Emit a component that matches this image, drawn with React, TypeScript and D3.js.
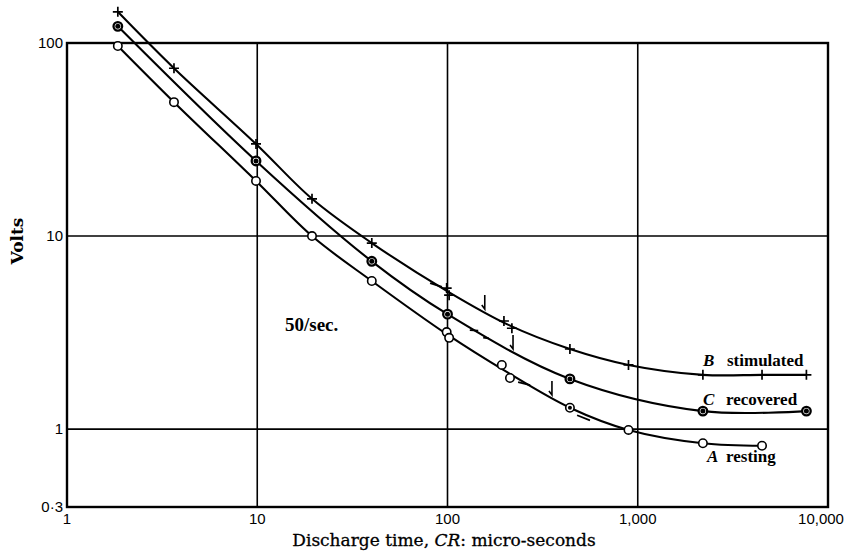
import React, { useEffect, useRef } from 'react';
import * as d3 from 'd3';

// axis ticks
const xTicks = [1, 10, 100, 1000, 10000];
const xTickLabels = ['1', '10', '100', '1,000', '10,000'];
const yBottom = 0.395;
const yTicks = [yBottom, 1, 10, 100];
const yTickLabels = ['0·3', '1', '10', '100'];
const gridX = [10, 100, 1000];
const gridY = [1, 10];

// B stimulated (+)
const stimulatedX = [1.85, 3.65, 9.85, 19.4, 40, 99, 102, 198, 218, 440, 894, 2200, 4500, 7700];
const stimulatedY = [145, 74, 30, 15.6, 9.2, 5.38, 4.94, 3.63, 3.33, 2.6, 2.15, 1.91, 1.91, 1.91];

// C recovered (filled circles)
const recoveredX = [1.85, 9.85, 40, 100, 440, 2200, 7700];
const recoveredY = [122, 24.5, 7.4, 3.94, 1.82, 1.24, 1.24];

// A resting (open circles)
const restingX = [1.85, 3.65, 9.85, 19.4, 40, 99, 102, 193, 213, 440, 894, 2200, 4500];
const restingY = [96.5, 49.4, 19.3, 10, 5.85, 3.18, 2.97, 2.15, 1.84, 1.29, 0.99, 0.845, 0.82];
const restingDotX = 440;

// small arrows pointing at the curves
const arrowX = [157, 221, 354];
const arrowY = [4.04, 2.51, 1.45];

// stray dash marks near the curves
const dashX1 = [81, 131, 154, 235, 480];
const dashX2 = [93.5, 145, 165, 272, 561];
const dashY1 = [5.7, 3.26, 2.98, 1.75, 1.18];
const dashY2 = [5.45, 3.24, 2.95, 1.69, 1.11];

const App = () => {
  const ref = useRef<SVGSVGElement | null>(null);

  useEffect(() => {
    const svg = d3.select(ref.current);
    svg.selectAll('*').remove();

    const x = d3.scaleLog().domain([1, 10000]).range([67, 828]);
    const y = d3.scaleLog().domain([yBottom, 100]).range([507, 43]);

    // grid lines
    svg.selectAll('.gx').data(gridX).enter().append('line')
      .attr('x1', (d) => x(d)).attr('x2', (d) => x(d))
      .attr('y1', y(100)).attr('y2', y(yBottom))
      .attr('stroke', '#000').attr('stroke-width', 1.6);
    svg.selectAll('.gy').data(gridY).enter().append('line')
      .attr('x1', x(1)).attr('x2', x(10000))
      .attr('y1', (d) => y(d)).attr('y2', (d) => y(d))
      .attr('stroke', '#000').attr('stroke-width', 1.6);

    // frame
    svg.append('rect')
      .attr('x', x(1)).attr('y', y(100))
      .attr('width', x(10000) - x(1)).attr('height', y(yBottom) - y(100))
      .attr('fill', 'none').attr('stroke', '#000').attr('stroke-width', 2.4);

    // tick labels
    svg.selectAll('.xt').data(xTicks).enter().append('text')
      .attr('x', (d) => Math.min(x(d), 821)).attr('y', 524)
      .attr('text-anchor', 'middle')
      .attr('font-family', '"Liberation Sans", Arial, sans-serif')
      .attr('font-size', 15)
      .text((d, i) => xTickLabels[i]);
    svg.selectAll('.yt').data(yTicks).enter().append('text')
      .attr('x', 63).attr('y', (d) => y(d) + 5)
      .attr('text-anchor', 'end')
      .attr('font-family', '"Liberation Sans", Arial, sans-serif')
      .attr('font-size', 15)
      .text((d, i) => yTickLabels[i]);

    // axis titles
    svg.append('text')
      .attr('transform', 'translate(23,241) rotate(-90)')
      .attr('text-anchor', 'middle')
      .attr('font-family', '"DejaVu Serif", serif')
      .attr('font-weight', 'bold')
      .attr('font-size', 17)
      .text('Volts');
    const title = svg.append('text')
      .attr('x', 444).attr('y', 546)
      .attr('text-anchor', 'middle')
      .attr('font-family', '"DejaVu Serif", serif')
      .attr('font-size', 17)
      .attr('stroke', '#000').attr('stroke-width', 0.3);
    title.append('tspan').text('Discharge time, ');
    title.append('tspan').attr('font-style', 'italic').text('CR');
    title.append('tspan').text(': micro-seconds');

    svg.append('text')
      .attr('x', 285).attr('y', 331)
      .attr('font-family', '"Liberation Serif", serif')
      .attr('font-weight', 'bold')
      .attr('font-size', 19)
      .text('50/sec.');

    // curves: pass through the points, merging readings that sit almost on top of each other
    const curvePoints = (xs: number[], ys: number[]) => {
      const out: { px: number; py: number; n: number }[] = [];
      xs.forEach((v, i) => {
        const px = x(v);
        const py = y(ys[i]);
        const last = out[out.length - 1];
        if (last && px - last.px / last.n < 12) {
          last.px += px;
          last.py += py;
          last.n += 1;
        } else {
          out.push({ px, py, n: 1 });
        }
      });
      return out.map((p) => [p.px / p.n, p.py / p.n] as [number, number]);
    };
    const line = d3.line<[number, number]>()
      .x((d) => d[0]).y((d) => d[1])
      .curve(d3.curveCatmullRom.alpha(0.5));
    const series = [
      { xs: stimulatedX, ys: stimulatedY },
      { xs: recoveredX, ys: recoveredY },
      { xs: restingX, ys: restingY },
    ];
    series.forEach((s) => {
      svg.append('path')
        .datum(curvePoints(s.xs, s.ys))
        .attr('d', line)
        .attr('fill', 'none').attr('stroke', '#000').attr('stroke-width', 2.1);
    });

    // dashes
    svg.selectAll('.dash').data(dashX1).enter().append('line')
      .attr('x1', (d) => x(d)).attr('x2', (d, i) => x(dashX2[i]))
      .attr('y1', (d, i) => y(dashY1[i])).attr('y2', (d, i) => y(dashY2[i]))
      .attr('stroke', '#000').attr('stroke-width', 1.8);

    // arrows
    arrowX.forEach((v, i) => {
      const px = x(v);
      const py = y(arrowY[i]) - 3;
      svg.append('path')
        .attr('d', `M${px},${py - 14}L${px},${py}L${px - 3},${py - 4}`)
        .attr('fill', 'none').attr('stroke', '#000').attr('stroke-width', 1.6);
    });

    // markers B (+)
    stimulatedX.forEach((v, i) => {
      const px = x(v);
      const py = y(stimulatedY[i]);
      svg.append('path')
        .attr('d', `M${px - 5},${py}L${px + 5},${py}M${px},${py - 5}L${px},${py + 5}`)
        .attr('stroke', '#000').attr('stroke-width', 1.7);
    });

    // markers C (filled circles)
    recoveredX.forEach((v, i) => {
      const px = x(v);
      const py = y(recoveredY[i]);
      svg.append('circle').attr('cx', px).attr('cy', py).attr('r', 4.3)
        .attr('fill', '#fff').attr('stroke', '#000').attr('stroke-width', 2.3);
      svg.append('circle').attr('cx', px).attr('cy', py).attr('r', 2.5).attr('fill', '#000');
    });

    // markers A (open circles)
    restingX.forEach((v, i) => {
      const px = x(v);
      const py = y(restingY[i]);
      svg.append('circle').attr('cx', px).attr('cy', py).attr('r', 4.2)
        .attr('fill', '#fff').attr('stroke', '#000').attr('stroke-width', 1.6);
      if (v === restingDotX) {
        svg.append('circle').attr('cx', px).attr('cy', py).attr('r', 2).attr('fill', '#000');
      }
    });

    // series labels
    const labels = [
      { letter: 'B', word: 'stimulated', lx: 703, wx: 727, by: 366 },
      { letter: 'C', word: 'recovered', lx: 703, wx: 726, by: 405 },
      { letter: 'A', word: 'resting', lx: 707, wx: 726, by: 462 },
    ];
    labels.forEach((l) => {
      svg.append('text')
        .attr('x', l.lx).attr('y', l.by)
        .attr('font-family', '"Liberation Serif", serif')
        .attr('font-style', 'italic').attr('font-weight', 'bold')
        .attr('font-size', 17)
        .text(l.letter);
      svg.append('text')
        .attr('x', l.wx).attr('y', l.by)
        .attr('font-family', '"Liberation Serif", serif')
        .attr('font-weight', 'bold')
        .attr('font-size', 17)
        .text(l.word);
    });
  }, []);

  return (
    <svg
      ref={ref}
      width={849}
      height={556}
      style={{ position: 'absolute', left: 0, top: 0, background: '#fff' }}
    />
  );
};

export default App;
